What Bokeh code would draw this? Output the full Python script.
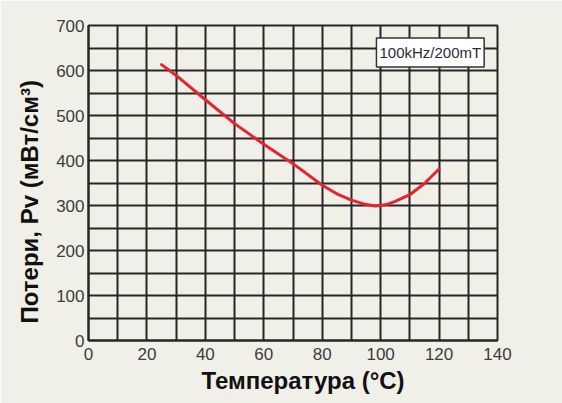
from bokeh.plotting import figure
from bokeh.models import Range1d, FixedTicker, Label, Title
from bokeh.embed import file_html
from bokeh.resources import INLINE

# Data
temperature = [25, 30, 40, 50, 60, 70, 80, 85, 90, 95, 98, 100, 102, 105, 110, 115, 120]
losses = [613, 589, 535, 482, 436, 393, 345, 326, 312, 302, 299, 300, 302, 309, 324, 349, 381]

x_ticks = [0, 20, 40, 60, 80, 100, 120, 140]
y_ticks = [0, 100, 200, 300, 400, 500, 600, 700]
x_grid = list(range(0, 141, 10))
y_grid = list(range(0, 701, 50))

BG = "#f1f0e8"
GRID = "#262626"

p = figure(width=562, height=403, output_backend="svg", toolbar_location=None,
           x_range=Range1d(0, 140), y_range=Range1d(0, 700),
           min_border_left=88, min_border_right=65, min_border_top=25, min_border_bottom=63)
p.background_fill_color = BG
p.border_fill_color = BG
p.outline_line_color = GRID
p.outline_line_width = 2

p.xgrid.ticker = FixedTicker(ticks=x_grid)
p.ygrid.ticker = FixedTicker(ticks=y_grid)
for g in (p.xgrid, p.ygrid):
    g.grid_line_color = GRID
    g.grid_line_width = 2
    g.grid_line_alpha = 1.0

p.xaxis.ticker = FixedTicker(ticks=x_ticks)
p.yaxis.ticker = FixedTicker(ticks=y_ticks)
for ax in (p.xaxis, p.yaxis):
    ax.major_tick_out = 0
    ax.major_tick_in = 0
    ax.minor_tick_out = 0
    ax.minor_tick_in = 0
    ax.axis_line_color = GRID
    ax.axis_line_width = 2
    ax.major_label_text_font = "Liberation Sans"
    ax.major_label_text_font_size = "17px"
    ax.major_label_text_color = "#3c3c3c"
p.xaxis.major_label_standoff = 7
p.yaxis.major_label_standoff = 4

p.line(temperature, losses, line_color="#e8232b", line_width=3, line_join="round", line_cap="round")

p.add_layout(Label(x=117, y=640, text="100kHz/200mT", text_align="center", text_baseline="middle",
                   text_font="Liberation Sans", text_font_size="15px", text_color="#2a2a3a",
                   background_fill_color="white", border_line_color="#333333", border_line_width=1.5,
                   padding=(3, 6)))

xt = Title(text="Температура (°C)", align="left", offset=113, text_font="Liberation Sans",
           text_font_size="24px", text_font_style="bold", text_color="#111111", standoff=4)
p.add_layout(xt, "below")
yt = Title(text="Потери, Pv (мВт/см³)", align="left", offset=17, text_font="Liberation Sans",
           text_font_size="24px", text_font_style="bold", text_color="#111111", standoff=22)
p.add_layout(yt, "left")

open("out.html", "w").write(file_html(p, INLINE))
